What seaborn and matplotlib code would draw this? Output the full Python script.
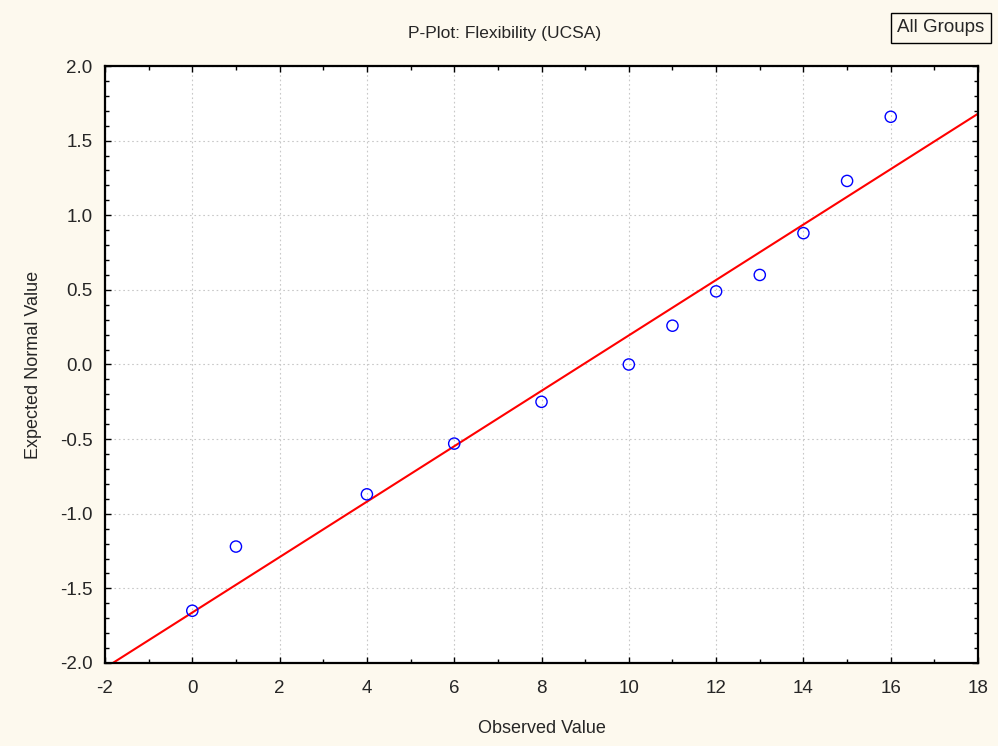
import numpy as np
import pandas as pd
import matplotlib
matplotlib.use("Agg")
import matplotlib.pyplot as plt
from matplotlib.ticker import MultipleLocator
import seaborn as sns

# values
observed = [0, 1, 4, 6, 8, 10, 11, 12, 13, 14, 15, 16]
expected = [-1.65, -1.22, -0.87, -0.53, -0.25, 0.0, 0.26, 0.49, 0.60, 0.88, 1.23, 1.66]
fit_intercept = -1.662
fit_slope = 0.1857

bg = "#FDF9EE"
df = pd.DataFrame({"Observed Value": observed, "Expected Normal Value": expected})

sns.set_style("white")
plt.rcParams["font.family"] = ["Liberation Sans", "DejaVu Sans"]
plt.rcParams["axes.unicode_minus"] = False

fig = plt.figure(figsize=(9.98, 7.46), dpi=100, facecolor=bg)
ax = fig.add_axes([0.1052, 0.1113, 0.8748, 0.8002])
ax.set_facecolor("white")

# fitted reference line
ax.axline((0, fit_intercept), slope=fit_slope, color="red", linewidth=1.5, zorder=2)

sns.scatterplot(data=df, x="Observed Value", y="Expected Normal Value", ax=ax,
                marker="o", s=65, facecolor="none", edgecolor="blue", linewidth=1.0, zorder=3)

ax.set_xlim(-2, 18)
ax.set_ylim(-2.0, 2.0)
ax.xaxis.set_major_locator(MultipleLocator(2))
ax.xaxis.set_minor_locator(MultipleLocator(1))
ax.yaxis.set_major_locator(MultipleLocator(0.5))
ax.yaxis.set_minor_locator(MultipleLocator(0.1))
ax.yaxis.set_major_formatter(matplotlib.ticker.FormatStrFormatter("%.1f"))

ax.grid(True, which="major", color="#C8C8C8", linestyle=(0, (1.5, 2.5)), linewidth=0.8)
ax.tick_params(which="both", direction="in", top=True, right=True, bottom=True, left=True,
               color="black", labelsize=13.5, width=1.0)
ax.tick_params(axis="x", which="major", length=4, pad=12)
ax.tick_params(axis="y", which="major", length=4, pad=9)
ax.tick_params(which="minor", length=3)
for sp in ax.spines.values():
    sp.set_color("black")
    sp.set_linewidth(1.6)

ax.set_xlabel("Observed Value", fontsize=13, labelpad=17)
ax.set_ylabel("Expected Normal Value", fontsize=13, labelpad=13)

fig.text(0.506, 0.955, "P-Plot: Flexibility (UCSA)", ha="center", va="center", fontsize=12.5)
fig.text(0.943, 0.963, "All Groups", ha="center", va="center", fontsize=13.5,
         bbox=dict(boxstyle="square,pad=0.35", facecolor=bg, edgecolor="black", linewidth=1.0))

fig.savefig("out.png", dpi=100, facecolor=bg)
